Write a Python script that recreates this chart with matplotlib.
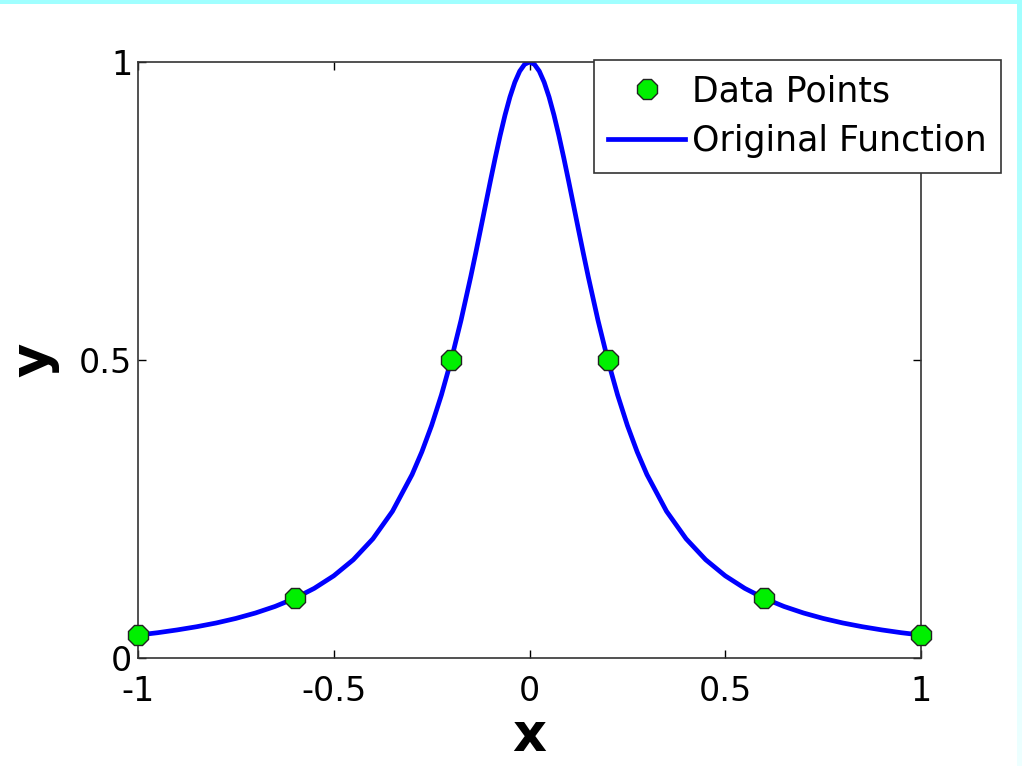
import numpy as np
import matplotlib
matplotlib.use("Agg")
import matplotlib.pyplot as plt
from matplotlib.patches import Rectangle

# Data points (green markers)
x_points = [-1.0, -0.6, -0.2, 0.2, 0.6, 1.0]
y_points = [0.0385, 0.1, 0.5, 0.5, 0.1, 0.0385]

# Original function samples (right half; mirrored for the left half)
x_half = [0.0, 0.0125, 0.025, 0.0375, 0.05, 0.0625, 0.075, 0.0875, 0.1, 0.1125, 0.125,
          0.1375, 0.15, 0.175, 0.2, 0.225, 0.25, 0.275, 0.3, 0.35, 0.4, 0.45, 0.5,
          0.55, 0.6, 0.65, 0.7, 0.75, 0.8, 0.85, 0.9, 0.95, 1.0]
y_half = [1.0, 0.9961, 0.9846, 0.9660, 0.9412, 0.9110, 0.8767, 0.8393, 0.8, 0.7596, 0.7191,
          0.6790, 0.64, 0.5664, 0.5, 0.4414, 0.3902, 0.3459, 0.3077, 0.2462, 0.2, 0.1649, 0.1379,
          0.1168, 0.1, 0.0865, 0.0755, 0.0664, 0.0588, 0.0525, 0.0471, 0.0424, 0.0385]

x_ticks = [-1, -0.5, 0, 0.5, 1]
x_ticklabels = ["-1", "-0.5", "0", "0.5", "1"]
y_ticks = [0, 0.5, 1]
y_ticklabels = ["0", "0.5", "1"]

x_curve = [-v for v in x_half[::-1]] + x_half[1:]
y_curve = y_half[::-1] + y_half[1:]

plt.rcParams['font.family'] = ['DejaVu Sans Condensed', 'DejaVu Sans']

W, H = 1022, 766
fig = plt.figure(figsize=(W / 100, H / 100), dpi=100, facecolor='white')

# decorative cyan frame
fig.patches.append(Rectangle((0, 1 - 4 / H), 1, 4 / H, transform=fig.transFigure,
                             facecolor='#a0ffff', edgecolor='none', zorder=0))
gax = fig.add_axes([1017 / W, 0, 5 / W, 1 - 4 / H])
grad = np.linspace(0, 1, 256).reshape(-1, 1)
top = np.array([160, 255, 255]) / 255
bot = np.array([238, 255, 255]) / 255
img = top[None, None, :] * (1 - grad[..., None]) + bot[None, None, :] * grad[..., None]
gax.imshow(img, aspect='auto', extent=[0, 1, 0, 1])
gax.axis('off')

ax = fig.add_axes([138 / W, 1 - 658 / H, (921 - 138) / W, (658 - 62) / H])

ax.plot(x_curve, y_curve, color='#0000ff', lw=3.4, label='Original Function', zorder=2,
        solid_joinstyle='round')
ax.plot(x_points, y_points, linestyle='none', marker='8', markersize=15,
        markerfacecolor='#00f000', markeredgecolor='#222222', markeredgewidth=1.0,
        label='Data Points', zorder=3, clip_on=False)

ax.set_xlim(-1, 1)
ax.set_ylim(0, 1)
ax.set_xticks(x_ticks)
ax.set_xticklabels(x_ticklabels)
ax.set_yticks(y_ticks)
ax.set_yticklabels(y_ticklabels)
ax.tick_params(direction='in', length=6, width=1, top=True, right=True,
               labelsize=24, colors='black')
ax.tick_params(axis='x', pad=12)
ax.tick_params(axis='y', pad=4)
for s in ax.spines.values():
    s.set_color('#333333')
    s.set_linewidth(1.2)

ax.set_xlabel('x', fontsize=38, fontweight='bold', labelpad=2)
ax.set_ylabel('y', fontsize=38, fontweight='bold', labelpad=14)

handles, labels = ax.get_legend_handles_labels()
leg = ax.legend([handles[1], handles[0]], [labels[1], labels[0]],
                loc='upper right', bbox_to_anchor=(1001 / W, 1 - 60 / H),
                bbox_transform=fig.transFigure, fontsize=25, frameon=True,
                fancybox=False, framealpha=1, edgecolor='#333333',
                borderaxespad=0, handlelength=2.2, handletextpad=0.2,
                borderpad=0.42, labelspacing=0.45)
leg.get_frame().set_linewidth(1.2)

fig.savefig('out.png', dpi=100, facecolor='white')
